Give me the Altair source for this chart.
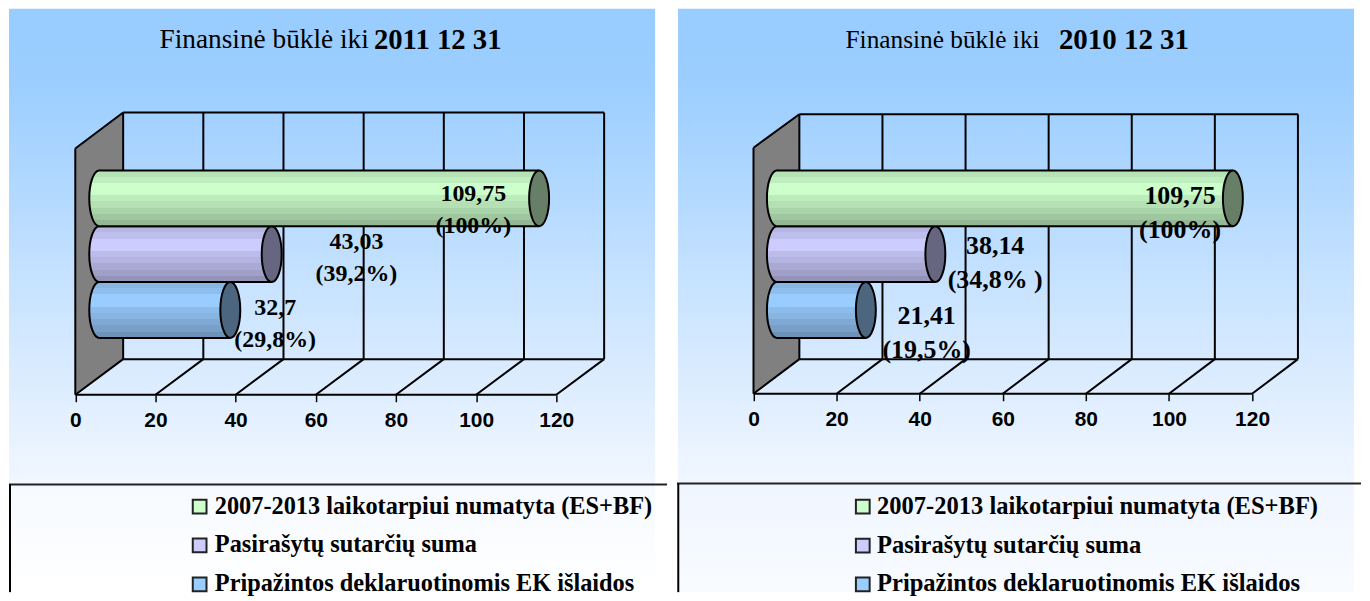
import altair as alt
import pandas as pd

SERIES = ["2007-2013 laikotarpiui numatyta (ES+BF)", "Pasirašytų sutarčių suma", "Pripažintos deklaruotinomis EK išlaidos"]
VALUES_2011 = [109.75, 43.03, 32.7]
VALUES_2010 = [109.75, 38.14, 21.41]
LABELS_2011 = ["109,75\n(100%)", "43,03\n(39,2%)", "32,7\n(29,8%)"]
LABELS_2010 = ["109,75\n(100%)", "38,14\n(34,8% )", "21,41\n(19,5%)"]
TICKS = [0, 20, 40, 60, 80, 100, 120]
TITLE_TEXT = "Finansinė būklė iki"
BASE_RGB = [(204, 255, 204), (204, 204, 255), (153, 204, 255)]
BASE_HEX = ["#CCFFCC", "#CCCCFF", "#99CCFF"]
CAP_HEX = ["#667F66", "#666680", "#4D6680"]
BANDS = [0.89, 0.93, 1.0, 1.0, 0.92, 0.88, 0.83, 0.78, 0.72]
CAP_PATH = ("M0,-1 C0.197,-1 0.357,-0.55 0.357,0 C0.357,0.55 0.197,1 0,1 "
            "C-0.197,1 -0.357,0.55 -0.357,0 C-0.357,-0.55 -0.197,-1 0,-1 Z")
SERIF = "Liberation Serif"
SANS = "Liberation Sans"
LW = 2


def hex_of(rgb, f):
    return "#%02X%02X%02X" % tuple(int(round(c * f)) for c in rgb)


def band_gradient(rgb):
    stops = []
    n = len(BANDS)
    for i, f in enumerate(BANDS):
        c = hex_of(rgb, f)
        stops.append(alt.GradientStop(offset=i / n, color=c))
        stops.append(alt.GradientStop(offset=(i + 1) / n, color=c))
    return alt.LinearGradient(gradient="linear", stops=stops, x1=0, x2=0, y1=0, y2=1)


def vgrad(*pairs):
    return alt.LinearGradient(gradient="linear", x1=0, x2=0, y1=0, y2=1,
                              stops=[alt.GradientStop(offset=o, color=c) for o, c in pairs])


def panel(values, labels, bold_title, g):
    one = pd.DataFrame({"n": [1]})
    x_scale = alt.Scale(domain=[g["x_min"], g["x_max"]], range=[0, g["w"]], nice=False, zero=False)
    y_scale = alt.Scale(domain=SERIES, range=[162, 330], paddingInner=0, paddingOuter=0)
    axis = alt.Axis(values=TICKS, title=None, grid=False, domain=False, ticks=True, tickSize=7,
                    tickWidth=1.5, tickColor="#000000", labelFont=SANS, labelFontWeight="bold",
                    labelFontSize=21, labelColor="#000000", labelPadding=g["label_pad"],
                    offset=g["axis_offset"], labelOverlap=False, labelFlush=False, zindex=1)
    d = g["depth"]
    X = lambda f: alt.X(f, type="quantitative", scale=x_scale, axis=axis, title=None)

    def rect_px(x0, x1, y0, y1, **kw):
        return alt.Chart(one).mark_rect(**kw).encode(
            x=alt.value(x0), x2=alt.value(x1), y=alt.value(y0), y2=alt.value(y1))

    def rule_px(x0, x1, y0, y1, color="#000000", w=LW):
        return alt.Chart(one).mark_rule(color=color, strokeWidth=w).encode(
            x=alt.value(x0), x2=alt.value(x1), y=alt.value(y0), y2=alt.value(y1))

    layers = [
        rect_px(g["bg0"], g["bg1"], 0, g["leg_top"],
                fill=vgrad((0, "#99CCFF"), (0.16, "#9CCEFF"), (1, "#F2F7FF"))),
        rect_px(g["bg0"], g["bg1"], g["leg_top"], g["h"], fill=vgrad(*g["leg_bg"])),
    ]

    ticks = pd.DataFrame({"t": TICKS})
    fy, by0, by1, wy = g["front"], g["back_top"], g["back_bottom"], g["wall_top"]

    wall = (alt.Chart(pd.DataFrame({"u": [0, d], "top": [wy, by0], "bot": [fy, by1]}))
            .mark_area(color="#808080", opacity=1)
            .encode(x=X("u"),
                    y=alt.Y("top:Q", scale=None, axis=None),
                    y2="bot:Q"))
    layers.append(wall)

    vert = alt.Chart(ticks).transform_calculate(p=f"datum.t + {d}").mark_rule(color="#000000", strokeWidth=LW).encode(
        x=X("p"), y=alt.value(by0), y2=alt.value(by1))
    diag = alt.Chart(ticks).transform_calculate(p=f"datum.t + {d}").mark_rule(color="#000000", strokeWidth=LW).encode(
        x=X("t"), x2="p:Q", y=alt.value(fy), y2=alt.value(by1))
    layers += [vert, diag]

    ends = pd.DataFrame({"a": [0], "b": [120]})
    layers.append(alt.Chart(ends).mark_rule(color="#000000", strokeWidth=LW).encode(
        x=X("a"), x2="b:Q", y=alt.value(fy)))
    for yy in (by0, by1):
        layers.append(alt.Chart(ends).transform_calculate(p=f"datum.a + {d}", q=f"datum.b + {d}")
                      .mark_rule(color="#000000", strokeWidth=LW).encode(x=X("p"), x2="q:Q", y=alt.value(yy)))
    layers.append(alt.Chart(ends).mark_rule(color="#000000", strokeWidth=LW).encode(
        x=X("a"), y=alt.value(wy), y2=alt.value(fy)))
    layers.append(alt.Chart(ends).transform_calculate(p=f"datum.a + {d}").mark_rule(color="#000000", strokeWidth=LW).encode(
        x=X("a"), x2="p:Q", y=alt.value(wy), y2=alt.value(by0)))

    df = pd.DataFrame({"series": SERIES, "value": values, "label": labels})
    df["start"] = d * g["bar_frac"]
    df["end"] = df["value"] + df["start"]
    Y = lambda pos=None: (alt.Y("series:N", scale=y_scale, axis=None, sort=SERIES)
                          if pos is None else
                          alt.Y("series:N", scale=y_scale, axis=None, sort=SERIES, bandPosition=pos))

    # flat bodies carry the colour scale and the legend
    layers.append(alt.Chart(df).mark_rect().encode(
        x=X("start"), x2="end:Q", y=Y(),
        color=alt.Color("series:N", sort=SERIES,
                        scale=alt.Scale(domain=SERIES, range=BASE_HEX),
                        legend=alt.Legend(orient="none", legendX=g["leg_x"], legendY=g["leg_y"], title=None,
                                          symbolType="square", symbolSize=190, symbolStrokeWidth=LW,
                                          symbolStrokeColor="#222222", symbolOpacity=1,
                                          labelFont=SERIF, labelFontWeight="bold",
                                          labelFontSize=g["leg_font"], labelColor="#000000",
                                          labelLimit=800, labelOffset=g["leg_off"], rowPadding=g["leg_gap"]))))

    ry_size = 3136
    for i in [2, 1, 0]:
        row = df.iloc[[i]]
        grad = band_gradient(BASE_RGB[i])
        layers.append(alt.Chart(row).mark_point(shape=CAP_PATH, filled=True, fill=grad, opacity=1,
                                                stroke="#000000", strokeWidth=LW, size=ry_size).encode(
            x=X("start"), y=Y()))
        layers.append(alt.Chart(row).mark_rect(fill=grad).encode(x=X("start"), x2="end:Q", y=Y()))
        for pos in (0, 1):
            layers.append(alt.Chart(row).mark_rule(color="#000000", strokeWidth=LW).encode(
                x=X("start"), x2="end:Q", y=Y(pos)))
        layers.append(alt.Chart(row).mark_point(shape=CAP_PATH, filled=True, fill=CAP_HEX[i], opacity=1,
                                                stroke="#000000", strokeWidth=LW, size=ry_size).encode(
            x=X("end"), y=Y()))

    for i in range(3):
        row = df.iloc[[i]]
        dx, dy = g["label_shift"][i]
        layers.append(alt.Chart(row).mark_text(
            font=SERIF, fontWeight="bold", fontSize=g["label_font"], lineBreak="\n",
            lineHeight=g["label_lh"], align="center", baseline="middle", color="#000000", dx=dx, dy=dy
        ).encode(x=X("end"), y=Y(), text="label:N"))

    layers.append(alt.Chart(one).mark_text(font=SERIF, fontSize=g["title_font"], align="left", baseline="middle",
                                           color="#000000", text=TITLE_TEXT).encode(
        x=alt.value(g["t0"]), y=alt.value(g["ty"])))
    layers.append(alt.Chart(one).mark_text(font=SERIF, fontWeight="bold", fontSize=g["bold_font"], align="left",
                                           baseline="middle", color="#000000", text=bold_title).encode(
        x=alt.value(g["t1"]), y=alt.value(g["ty"])))

    layers.append(rule_px(0, g["w"], g["leg_line"], g["leg_line"], color="#222222"))
    layers.append(rule_px(g["box_x"], g["box_x"], g["leg_line"], g["h"]))

    return alt.layer(*layers).resolve_scale(y="independent").properties(width=g["w"], height=g["h"])


H = 585
W_LEFT = 660
W_RIGHT = 686
G_LEFT = dict(w=W_LEFT, h=H, x_min=-66.5 / 4.02, x_max=(W_LEFT - 66.5) / 4.02, depth=11.94, bar_frac=0.5,
              bg0=0, bg1=648, leg_top=477, leg_line=477, box_x=1,
              leg_bg=[(0, "#F6FAFF"), (1, "#FFFFFF")],
              front=387, back_top=104, back_bottom=351.3, wall_top=140,
              axis_offset=-(H - 387), label_pad=8,
              leg_x=179, leg_y=487, leg_font=24.4, leg_off=3, leg_gap=14,
              label_font=24, label_lh=32,
              label_shift=[(-66, -4), (85, -12), (45, -2)],
              title_font=27.4, bold_font=28.8, t0=151, t1=366, ty=31)
G_RIGHT = dict(w=W_RIGHT, h=H, x_min=-76.7 / 4.167, x_max=(W_RIGHT - 76.7) / 4.167, depth=11.04, bar_frac=0.51,
               bg0=1, bg1=679, leg_top=477, leg_line=476, box_x=1.25,
               leg_bg=[(0, "#F0F6FF"), (1, "#F8FBFF")],
               front=386, back_top=105.7, back_bottom=351.3, wall_top=139.3,
               axis_offset=-(H - 386), label_pad=8,
               leg_x=174, leg_y=487, leg_font=24.6, leg_off=2, leg_gap=14,
               label_font=26, label_lh=34,
               label_shift=[(-53, -2), (60, -8), (61, 6)],
               title_font=25.4, bold_font=29, t0=169, t1=383, ty=31)

chart = (alt.hconcat(panel(VALUES_2011, LABELS_2011, "2011 12 31", G_LEFT),
                     panel(VALUES_2010, LABELS_2010, "2010 12 31", G_RIGHT), spacing=8)
         .resolve_scale(color="independent")
         .resolve_legend(color="independent")
         .properties(padding=0, background="#FFFFFF")
         .configure_view(stroke=None))

chart.save("out.html", embed_options={"renderer": "svg", "actions": False})
